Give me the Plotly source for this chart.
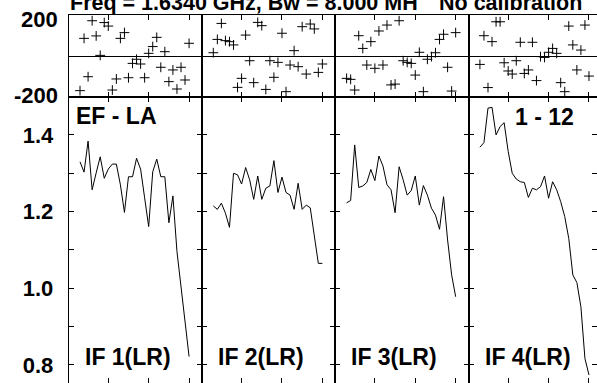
import plotly.graph_objects as go

W, H = 597, 383

# channels plotted in every IF panel
channels = list(range(3, 31))

# amplitude, one list per IF
amp_if1 = [1.330, 1.303, 1.384, 1.257, 1.301, 1.343, 1.287, 1.311, 1.324, 1.324,
           1.270, 1.198, 1.291, 1.291, 1.339, 1.311, 1.236, 1.161, 1.304, 1.337,
           1.291, 1.291, 1.171, 1.241, 1.096, 1.002, 0.912, 0.822]
amp_if2 = [1.215, 1.206, 1.222, 1.196, 1.159, 1.300, 1.296, 1.272, 1.315, 1.283,
           1.232, 1.293, 1.232, 1.261, 1.267, 1.333, 1.250, 1.290, 1.250, 1.243,
           1.206, 1.274, 1.206, 1.217, 1.210, 1.135, 1.065, 1.065]
amp_if3 = [1.223, 1.229, 1.374, 1.263, 1.267, 1.276, 1.310, 1.281, 1.345, 1.319,
           1.270, 1.257, 1.197, 1.317, 1.283, 1.243, 1.255, 1.293, 1.217, 1.268,
           1.243, 1.209, 1.191, 1.154, 1.239, 1.126, 1.035, 0.978]
amp_if4 = [1.368, 1.380, 1.470, 1.472, 1.400, 1.422, 1.432, 1.357, 1.300, 1.285,
           1.278, 1.276, 1.237, 1.261, 1.257, 1.265, 1.293, 1.235, 1.278, 1.257,
           1.226, 1.187, 1.130, 1.035, 1.015, 0.952, 0.817, 0.774]

# phase (degrees), one list per IF
pha_if1 = [-169, 86, -101, 172, 98, 3, 163, 146, -166, -112,
           86, 114, -106, -36, -16, -39, -106, 13, 46, 91,
           -55, 21, -125, -68, -161, -55, -117, 62]
pha_if2 = [16, 81, 159, 75, 70, 54, -153, -109, 102, -23,
           -130, 164, 148, -163, -23, -104, -31, 111, -174, -44,
           26, -52, 143, -88, 156, 132, -80, -39]
pha_if3 = [-109, -114, -166, 99, 37, -44, 70, -60, 122, -44,
           151, -141, -137, 172, -23, -31, -36, -93, 18, -174,
           -16, -3, 16, 81, 106, -55, -171, 114]
pha_if4 = [-41, 99, -154, 70, 167, 167, -33, -73, -88, -23,
           67, -85, -68, 67, -120, -3, -7, 18, 37, 13,
           -130, -174, 146, 54, -68, 29, 151, -98]

amps = [amp_if1, amp_if2, amp_if3, amp_if4]
phases = [pha_if1, pha_if2, pha_if3, pha_if4]
if_labels = ['IF 1(LR)', 'IF 2(LR)', 'IF 3(LR)', 'IF 4(LR)']

amp_ticks = [0.8, 0.9, 1.0, 1.1, 1.2, 1.3, 1.4]
amp_ticktext = ['0.8', '', '1.0', '', '1.2', '', '1.4']
phase_ticks = [200, -200]
chan_ticks = [10, 20, 30]

# panel geometry (pixels)
left0, pw = 68.7, 133.3
pha_top, pha_bot = 15, 97
x0, x1 = 0.2, 33.2
px_per_ch = pw / (x1 - x0)

FONT = 'Liberation Sans'
bold = dict(family=FONT, size=23, color='black', weight='bold')
tick_font = dict(family=FONT, size=22, color='black', weight='bold')
title_font = dict(family=FONT, size=21.5, color='black', weight='bold')

fig = go.Figure()
layout = dict(width=W, height=H, margin=dict(l=0, r=0, t=0, b=0),
              plot_bgcolor='white', paper_bgcolor='white', showlegend=False)

axis_common = dict(showline=True, linecolor='black', linewidth=1, mirror='ticks',
                   ticks='inside', ticklen=5, tickcolor='black', tickwidth=1,
                   showgrid=False, zeroline=False, fixedrange=True)

annotations = []
for i in range(4):
    L = left0 + pw * i
    R = L + pw
    xr = [x0, x1]
    if R > W:
        xr = [x0, x0 + (W - L) / px_per_ch]
        R = W
    dom = [L / W, R / W]
    pn, an = 2 * i + 1, 2 * i + 2

    fig.add_trace(go.Scatter(x=channels, y=phases[i], mode='markers',
                             marker=dict(symbol='cross-thin', size=7, color='black',
                                         line=dict(color='black', width=1)),
                             xaxis=f'x{pn}', yaxis=f'y{pn}'))
    fig.add_trace(go.Scatter(x=channels, y=amps[i], mode='lines',
                             line=dict(color='black', width=1),
                             xaxis=f'x{an}', yaxis=f'y{an}'))

    xa = dict(axis_common, domain=dom, range=xr, tickvals=chan_ticks, showticklabels=False)
    layout[f'xaxis{pn}'] = dict(xa, anchor=f'y{pn}')
    layout[f'xaxis{an}'] = dict(xa, anchor=f'y{an}')
    layout[f'yaxis{pn}'] = dict(axis_common, anchor=f'x{pn}',
                                domain=[1 - pha_bot / H, 1 - pha_top / H],
                                range=[-200, 200], tickvals=[], showticklabels=False,
                                zeroline=True, zerolinecolor='black', zerolinewidth=1)
    layout[f'yaxis{an}'] = dict(axis_common, anchor=f'x{an}',
                                domain=[0, 1 - pha_bot / H],
                                range=[0.753, 1.499], tickvals=amp_ticks,
                                ticktext=amp_ticktext, showticklabels=(i == 0),
                                tickfont=tick_font, ticklabelstandoff=10)

    annotations.append(dict(text=if_labels[i], xref='paper', yref='paper',
                            x=(L + 14) / W, y=1 - 357 / H, xanchor='left',
                            yanchor='middle', showarrow=False, font=bold))

for v, dy in zip(phase_ticks, [-5, 1]):
    annotations.append(dict(text=str(v), xref='paper', yref='y1', x=60 / W, y=v,
                            yshift=dy, xanchor='right', yanchor='middle',
                            showarrow=False, font=tick_font))

annotations += [
    dict(text='EF - LA', xref='paper', yref='paper', x=74 / W, y=1 - 116 / H,
         xanchor='left', yanchor='middle', showarrow=False, font=bold),
    dict(text='1 - 12', xref='paper', yref='paper', x=576 / W, y=1 - 117 / H,
         xanchor='right', yanchor='middle', showarrow=False, font=bold),
    dict(text='Freq = 1.6340 GHz, Bw = 8.000 MH', xref='paper', yref='paper',
         x=68 / W, y=1 - 3 / H, xanchor='left', yanchor='middle',
         showarrow=False, font=title_font),
    dict(text='No calibration', xref='paper', yref='paper',
         x=437 / W, y=1 - 3 / H, xanchor='left', yanchor='middle',
         showarrow=False, font=title_font),
]
layout['annotations'] = annotations

fig.update_layout(**layout)
# the page's default body margin would push the plot 8px right/down
fig.write_html("out.html", config={'displayModeBar': False},
               post_script="document.body.style.margin='0';")
